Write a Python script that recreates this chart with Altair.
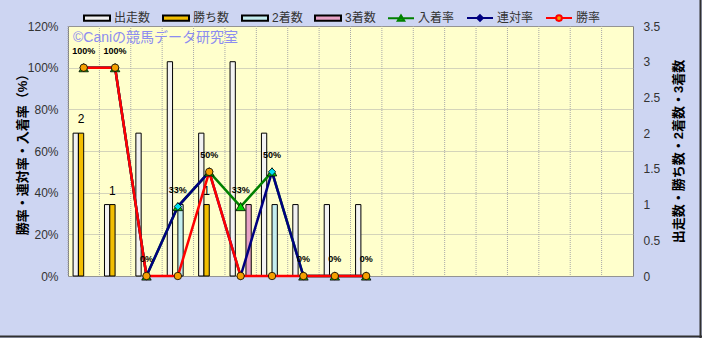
import altair as alt
import pandas as pd

# ---- data ----
horses = ["1番", "2番", "3番", "4番", "5番", "6番", "7番", "14番", "16番", "18番"]
blank_slots = ["_a", "_b", "_c", "_d", "_e", "_f", "_g", "_h"]

count_types = ["出走数", "勝ち数", "2着数", "3着数"]
starts = [2, 1, 2, 3, 2, 3, 2, 1, 1, 1]
wins = [2, 1, 0, 0, 1, 0, 0, 0, 0, 0]
seconds = [0, 0, 0, 1, 0, 0, 1, 0, 0, 0]
thirds = [0, 0, 0, 0, 0, 1, 0, 0, 0, 0]
count_colors = ["#F2F2F2", "#F2BE00", "#C4EEF0", "#E8A2C6"]

rate_series = ["入着率", "連対率", "勝率"]
place_rate = [1.0, 1.0, 0.0, 0.3333, 0.5, 0.3333, 0.5, 0.0, 0.0, 0.0]
quinella_rate = [1.0, 1.0, 0.0, 0.3333, 0.5, 0.0, 0.5, 0.0, 0.0, 0.0]
win_rate = [1.0, 1.0, 0.0, 0.0, 0.5, 0.0, 0.0, 0.0, 0.0, 0.0]
place_labels = ["100%", "100%", "0%", "33%", "50%", "33%", "50%", "0%", "0%", "0%"]

line_colors = ["#008000", "#000080", "#FF0000"]
marker_fills = ["#00D000", "#00E0F0", "#F5A000"]
marker_shapes = ["triangle-up", "diamond", "circle"]
marker_sizes = [90, 55, 55]

# ---- tables built from the lists ----
count_lists = [starts, wins, seconds, thirds]
bar_rows = []
for t, vals, col in zip(count_types, count_lists, count_colors):
    for h, v in zip(horses, vals):
        if v > 0:
            bar_rows.append({"horse": h, "type": t, "count": v, "fill": col})
bars_df = pd.DataFrame(bar_rows)
wins_df = bars_df[bars_df["type"] == "勝ち数"]

rate_lists = [place_rate, quinella_rate, win_rate]
rate_rows = []
for s, vals in zip(rate_series, rate_lists):
    for h, v in zip(horses, vals):
        rate_rows.append({"horse": h, "series": s, "value": v})
rates_df = pd.DataFrame(rate_rows)
label_df = pd.DataFrame({"horse": horses, "value": place_rate, "label": place_labels})

xdomain = horses + blank_slots
slots_df = pd.DataFrame({"horse": xdomain})

legend_names = count_types + rate_series
legend_df = pd.DataFrame({"series": legend_names, "horse": horses[0], "value": -1.0})
rect_path = "M-1,-0.2H1V0.2H-1Z"
legend_shapes = [rect_path] * 4 + [
    "M-1,0H1M-0.25,0.2L0,-0.22L0.25,0.2Z",
    "M-1,0H1M0,-0.22L0.22,0L0,0.22L-0.22,0Z",
    "M-1,0H-0.22M0.22,0H1M-0.22,0A0.22,0.22 0 1,0 0.22,0A0.22,0.22 0 1,0 -0.22,0Z",
]
legend_fills = count_colors + marker_fills
legend_strokes = ["#000000"] * 4 + line_colors

FONT = "Liberation Sans, Noto Sans CJK JP"
x_scale = alt.Scale(type="band", domain=xdomain, paddingInner=0, paddingOuter=0)

x_enc = alt.X(
    "horse:N",
    scale=x_scale,
    axis=alt.Axis(
        title="馬番",
        labelExpr="indexof(datum.value, '番') >= 0 ? datum.label : ''",
        grid=False,
        ticks=False,
        domain=False,
        labelAngle=0,
        labelPadding=9,
        labelFontSize=12,
        titleFontSize=13,
        titleFontWeight="normal",
        titleColor="#333333",
        titleX=282.5,
        titleY=42,
        titleAlign="center",
        titleBaseline="middle",
    ),
)

count_y = alt.Y(
    "count:Q",
    scale=alt.Scale(domain=[0, 3.5], nice=False, zero=True),
    axis=alt.Axis(
        orient="right",
        title="出走数・勝ち数・2着数・3着数",
        values=[0, 0.5, 1, 1.5, 2, 2.5, 3, 3.5],
        format=".1~f",
        grid=False,
        ticks=False,
        domain=False,
        labelPadding=10,
        titleAngle=270,
        titleX=45,
        titleY=125,
        titleAlign="center",
        titleBaseline="middle",
    ),
)

rate_y = alt.Y(
    "value:Q",
    scale=alt.Scale(domain=[0, 1.2], nice=False, zero=True),
    axis=alt.Axis(
        orient="left",
        title="勝率・連対率・入着率（%）",
        values=[0, 0.2, 0.4, 0.6, 0.8, 1.0, 1.2],
        format=".0%",
        grid=True,
        ticks=False,
        domain=False,
        labelPadding=10,
        titleAngle=270,
        titleX=-46,
        titleY=125,
        titleAlign="center",
        titleBaseline="middle",
    ),
)

# vertical grid lines on the boundaries between horse slots
vgrid = alt.Chart(slots_df).mark_rule(
    color="#A8A8A8", strokeDash=[1, 1], strokeWidth=1
).encode(x=alt.X("horse:N", scale=x_scale, bandPosition=0, axis=None))

xoff = alt.XOffset(
    "type:N", scale=alt.Scale(domain=count_types, paddingInner=0, paddingOuter=0.96)
)

bars = alt.Chart(bars_df).mark_bar(stroke="#000000", strokeWidth=1).encode(
    x=x_enc, xOffset=xoff, y=count_y, fill=alt.Fill("fill:N", scale=None)
)
win_text = alt.Chart(wins_df).mark_text(
    dy=-14, fontSize=12, color="#000000", font=FONT
).encode(x=x_enc, xOffset=xoff, y=count_y, text="count:Q")
count_group = alt.layer(bars, win_text)

lines = []
for s, c in zip(rate_series, line_colors):
    lines.append(
        alt.Chart(rates_df)
        .transform_filter(alt.datum.series == s)
        .mark_line(color=c, strokeWidth=2.5)
        .encode(x=x_enc, y=rate_y)
    )
markers = []
for s, f, sh, sz in zip(rate_series, marker_fills, marker_shapes, marker_sizes):
    markers.append(
        alt.Chart(rates_df)
        .transform_filter(alt.datum.series == s)
        .mark_point(
            filled=True, shape=sh, size=sz, fill=f, stroke="#000000",
            strokeWidth=0.8, opacity=1,
        )
        .encode(x=x_enc, y=rate_y)
    )
rate_text = alt.Chart(label_df).mark_text(
    dy=-17, fontSize=9, fontWeight="bold", color="#000000", font=FONT
).encode(x=x_enc, y=rate_y, text="label:N")

leg = alt.Legend(
    title=None,
    orient="none",
    legendX=15,
    legendY=-22,
    direction="horizontal",
    labelFontSize=12,
    labelColor="#333333",
    labelFont=FONT,
    symbolSize=676,
    symbolStrokeWidth=2,
    columnPadding=8,
    labelOffset=3,
)
legend_layer = alt.Chart(legend_df).mark_point(
    filled=True, size=676, strokeWidth=2, opacity=1, clip=True
).encode(
    x=x_enc,
    y=rate_y,
    fill=alt.Fill("series:N", scale=alt.Scale(domain=legend_names, range=legend_fills), legend=leg),
    stroke=alt.Stroke("series:N", scale=alt.Scale(domain=legend_names, range=legend_strokes), legend=leg),
    shape=alt.Shape("series:N", scale=alt.Scale(domain=legend_names, range=legend_shapes), legend=leg),
)

rate_group = alt.layer(*lines, *markers, rate_text, legend_layer)

note = alt.Chart(pd.DataFrame({"t": ["©Caniの競馬データ研究室"]})).mark_text(
    align="left", baseline="middle", fontSize=14, color="#8C8CF0", font=FONT
).encode(x=alt.value(5), y=alt.value(12), text="t:N")

# dark edge of the picture frame (right and bottom)
frame_r = alt.Chart(pd.DataFrame({"k": [0]})).mark_rule(
    color="#303030", strokeWidth=2
).encode(x=alt.value(632.5), y=alt.value(-26), y2=alt.value(312))
frame_b = alt.Chart(pd.DataFrame({"k": [0]})).mark_rule(
    color="#303030", strokeWidth=2
).encode(x=alt.value(-68), x2=alt.value(634), y=alt.value(310.5))

chart = (
    alt.layer(vgrid, count_group, rate_group, note, frame_r, frame_b)
    .resolve_scale(y="independent")
    .properties(
        width=565,
        height=250,
        autosize="none",
        padding={"left": 68, "top": 26, "right": 69, "bottom": 62},
        background="#CDD5F2",
    )
    .configure_view(fill="#FFFFCC", stroke="#808080", strokeWidth=1)
    .configure_axis(
        labelFont=FONT,
        titleFont=FONT,
        labelFontSize=12,
        labelColor="#333333",
        titleFontSize=13,
        titleFontWeight="bold",
        titleColor="#000000",
        gridColor="#A8A8A8",
        gridDash=[1, 1],
        gridWidth=1,
    )
)

chart.save("out.html", embed_options={"renderer": "svg", "actions": False})
